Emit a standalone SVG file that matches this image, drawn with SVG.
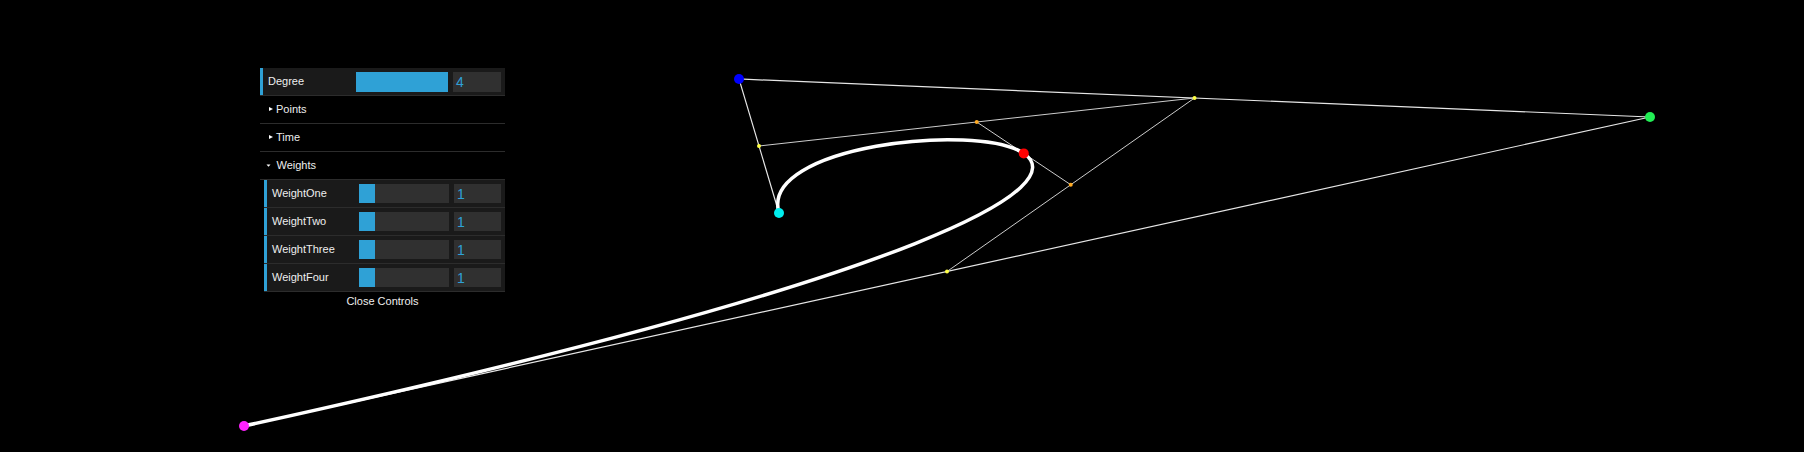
<svg xmlns="http://www.w3.org/2000/svg" width="1804" height="452" viewBox="0 0 1804 452">
<style>
.lbl{font-family:"Liberation Sans",Arial,sans-serif;font-size:11px;fill:#eeeeee}
.num{font-family:"Liberation Sans",Arial,sans-serif;font-size:14px;fill:#2fa1d6}
.row{fill:#1a1a1a}
.bar{fill:#2fa1d6}
.box{fill:#303030}
.sep{stroke:#2c2c2c;stroke-width:1}
.poly{stroke:#e6e6e6;stroke-width:1.2;fill:none}
.aux{stroke:#cccccc;stroke-width:1;fill:none}
.curve{stroke:#ffffff;stroke-width:3.5;fill:none;stroke-linecap:round}
</style>
<rect width="1804" height="452" fill="#000"/>
<g id="controls">
  <g id="degree">
    <rect class="row" x="260" y="68" width="245" height="27"/>
    <rect class="bar" x="260" y="68" width="3" height="27"/>
    <text class="lbl" x="268" y="85">Degree</text>
    <rect class="bar" x="356" y="72" width="92" height="20"/>
    <rect class="box" x="453" y="72" width="48" height="20"/>
    <text class="num" x="456" y="87">4</text>
  </g>
  <line class="sep" x1="260" y1="95.5" x2="505" y2="95.5"/>
  <g id="points-folder">
    <polygon points="269,107 273,109 269,111" fill="#fff"/>
    <text class="lbl" x="276" y="112.5">Points</text>
  </g>
  <line class="sep" x1="260" y1="123.5" x2="505" y2="123.5"/>
  <g id="time-folder">
    <polygon points="269,135 273,137 269,139" fill="#fff"/>
    <text class="lbl" x="276" y="140.5">Time</text>
  </g>
  <line class="sep" x1="260" y1="151.5" x2="505" y2="151.5"/>
  <g id="weights-folder">
    <polygon points="266.5,164.5 270.5,164.5 268.5,166.8" fill="#fff"/>
    <text class="lbl" x="276.5" y="168.5">Weights</text>
  </g>
  <line class="sep" x1="260" y1="179.5" x2="505" y2="179.5"/>
  <g id="weight-one">
    <rect class="row" x="264" y="180" width="241" height="27"/>
    <rect class="bar" x="264" y="180" width="3" height="27"/>
    <text class="lbl" x="272" y="196.5">WeightOne</text>
    <rect class="box" x="359" y="184" width="90" height="19"/>
    <rect class="bar" x="359" y="184" width="16" height="19"/>
    <rect class="box" x="454" y="184" width="47" height="19"/>
    <text class="num" x="457" y="199">1</text>
  </g>
  <line class="sep" x1="264" y1="207.5" x2="505" y2="207.5"/>
  <g id="weight-two">
    <rect class="row" x="264" y="208" width="241" height="27"/>
    <rect class="bar" x="264" y="208" width="3" height="27"/>
    <text class="lbl" x="272" y="224.5">WeightTwo</text>
    <rect class="box" x="359" y="212" width="90" height="19"/>
    <rect class="bar" x="359" y="212" width="16" height="19"/>
    <rect class="box" x="454" y="212" width="47" height="19"/>
    <text class="num" x="457" y="227">1</text>
  </g>
  <line class="sep" x1="264" y1="235.5" x2="505" y2="235.5"/>
  <g id="weight-three">
    <rect class="row" x="264" y="236" width="241" height="27"/>
    <rect class="bar" x="264" y="236" width="3" height="27"/>
    <text class="lbl" x="272" y="252.5">WeightThree</text>
    <rect class="box" x="359" y="240" width="90" height="19"/>
    <rect class="bar" x="359" y="240" width="16" height="19"/>
    <rect class="box" x="454" y="240" width="47" height="19"/>
    <text class="num" x="457" y="255">1</text>
  </g>
  <line class="sep" x1="264" y1="263.5" x2="505" y2="263.5"/>
  <g id="weight-four">
    <rect class="row" x="264" y="264" width="241" height="27"/>
    <rect class="bar" x="264" y="264" width="3" height="27"/>
    <text class="lbl" x="272" y="280.5">WeightFour</text>
    <rect class="box" x="359" y="268" width="90" height="19"/>
    <rect class="bar" x="359" y="268" width="16" height="19"/>
    <rect class="box" x="454" y="268" width="47" height="19"/>
    <text class="num" x="457" y="283">1</text>
  </g>
  <line class="sep" x1="264" y1="291.5" x2="505" y2="291.5"/>
  <g id="close-controls">
    <text class="lbl" x="382.5" y="305" text-anchor="middle">Close Controls</text>
  </g>
</g>
<g id="connectors">
  <polyline class="poly" points="244,426 1650,117 739,79 779,213"/>
  <polyline class="aux" points="947,271.5 1194.5,98 759,146"/>
  <line class="aux" x1="1070.75" y1="184.75" x2="976.75" y2="122"/>
  <path class="curve" d="M244,426 C1650,117 739,79 779,213"/>
</g>
<g id="p0"><circle cx="244" cy="426" r="5" fill="#ff22ff"/></g>
<g id="p1"><circle cx="1650" cy="117" r="5" fill="#22ee55"/></g>
<g id="p2"><circle cx="739" cy="79" r="5" fill="#0000ff"/></g>
<g id="p3"><circle cx="779" cy="213" r="5" fill="#00eeee"/></g>
<g id="q0"><circle cx="947" cy="271.5" r="2" fill="#ffff44"/></g>
<g id="q1"><circle cx="1194.5" cy="98" r="2" fill="#ffff44"/></g>
<g id="q2"><circle cx="759" cy="146" r="2" fill="#ffff44"/></g>
<g id="r0"><circle cx="1070.75" cy="184.75" r="2" fill="#ffaa22"/></g>
<g id="r1"><circle cx="976.75" cy="122" r="2" fill="#ffaa22"/></g>
<g id="s"><circle cx="1023.75" cy="153.4" r="5" fill="#ff0000"/></g>
</svg>
